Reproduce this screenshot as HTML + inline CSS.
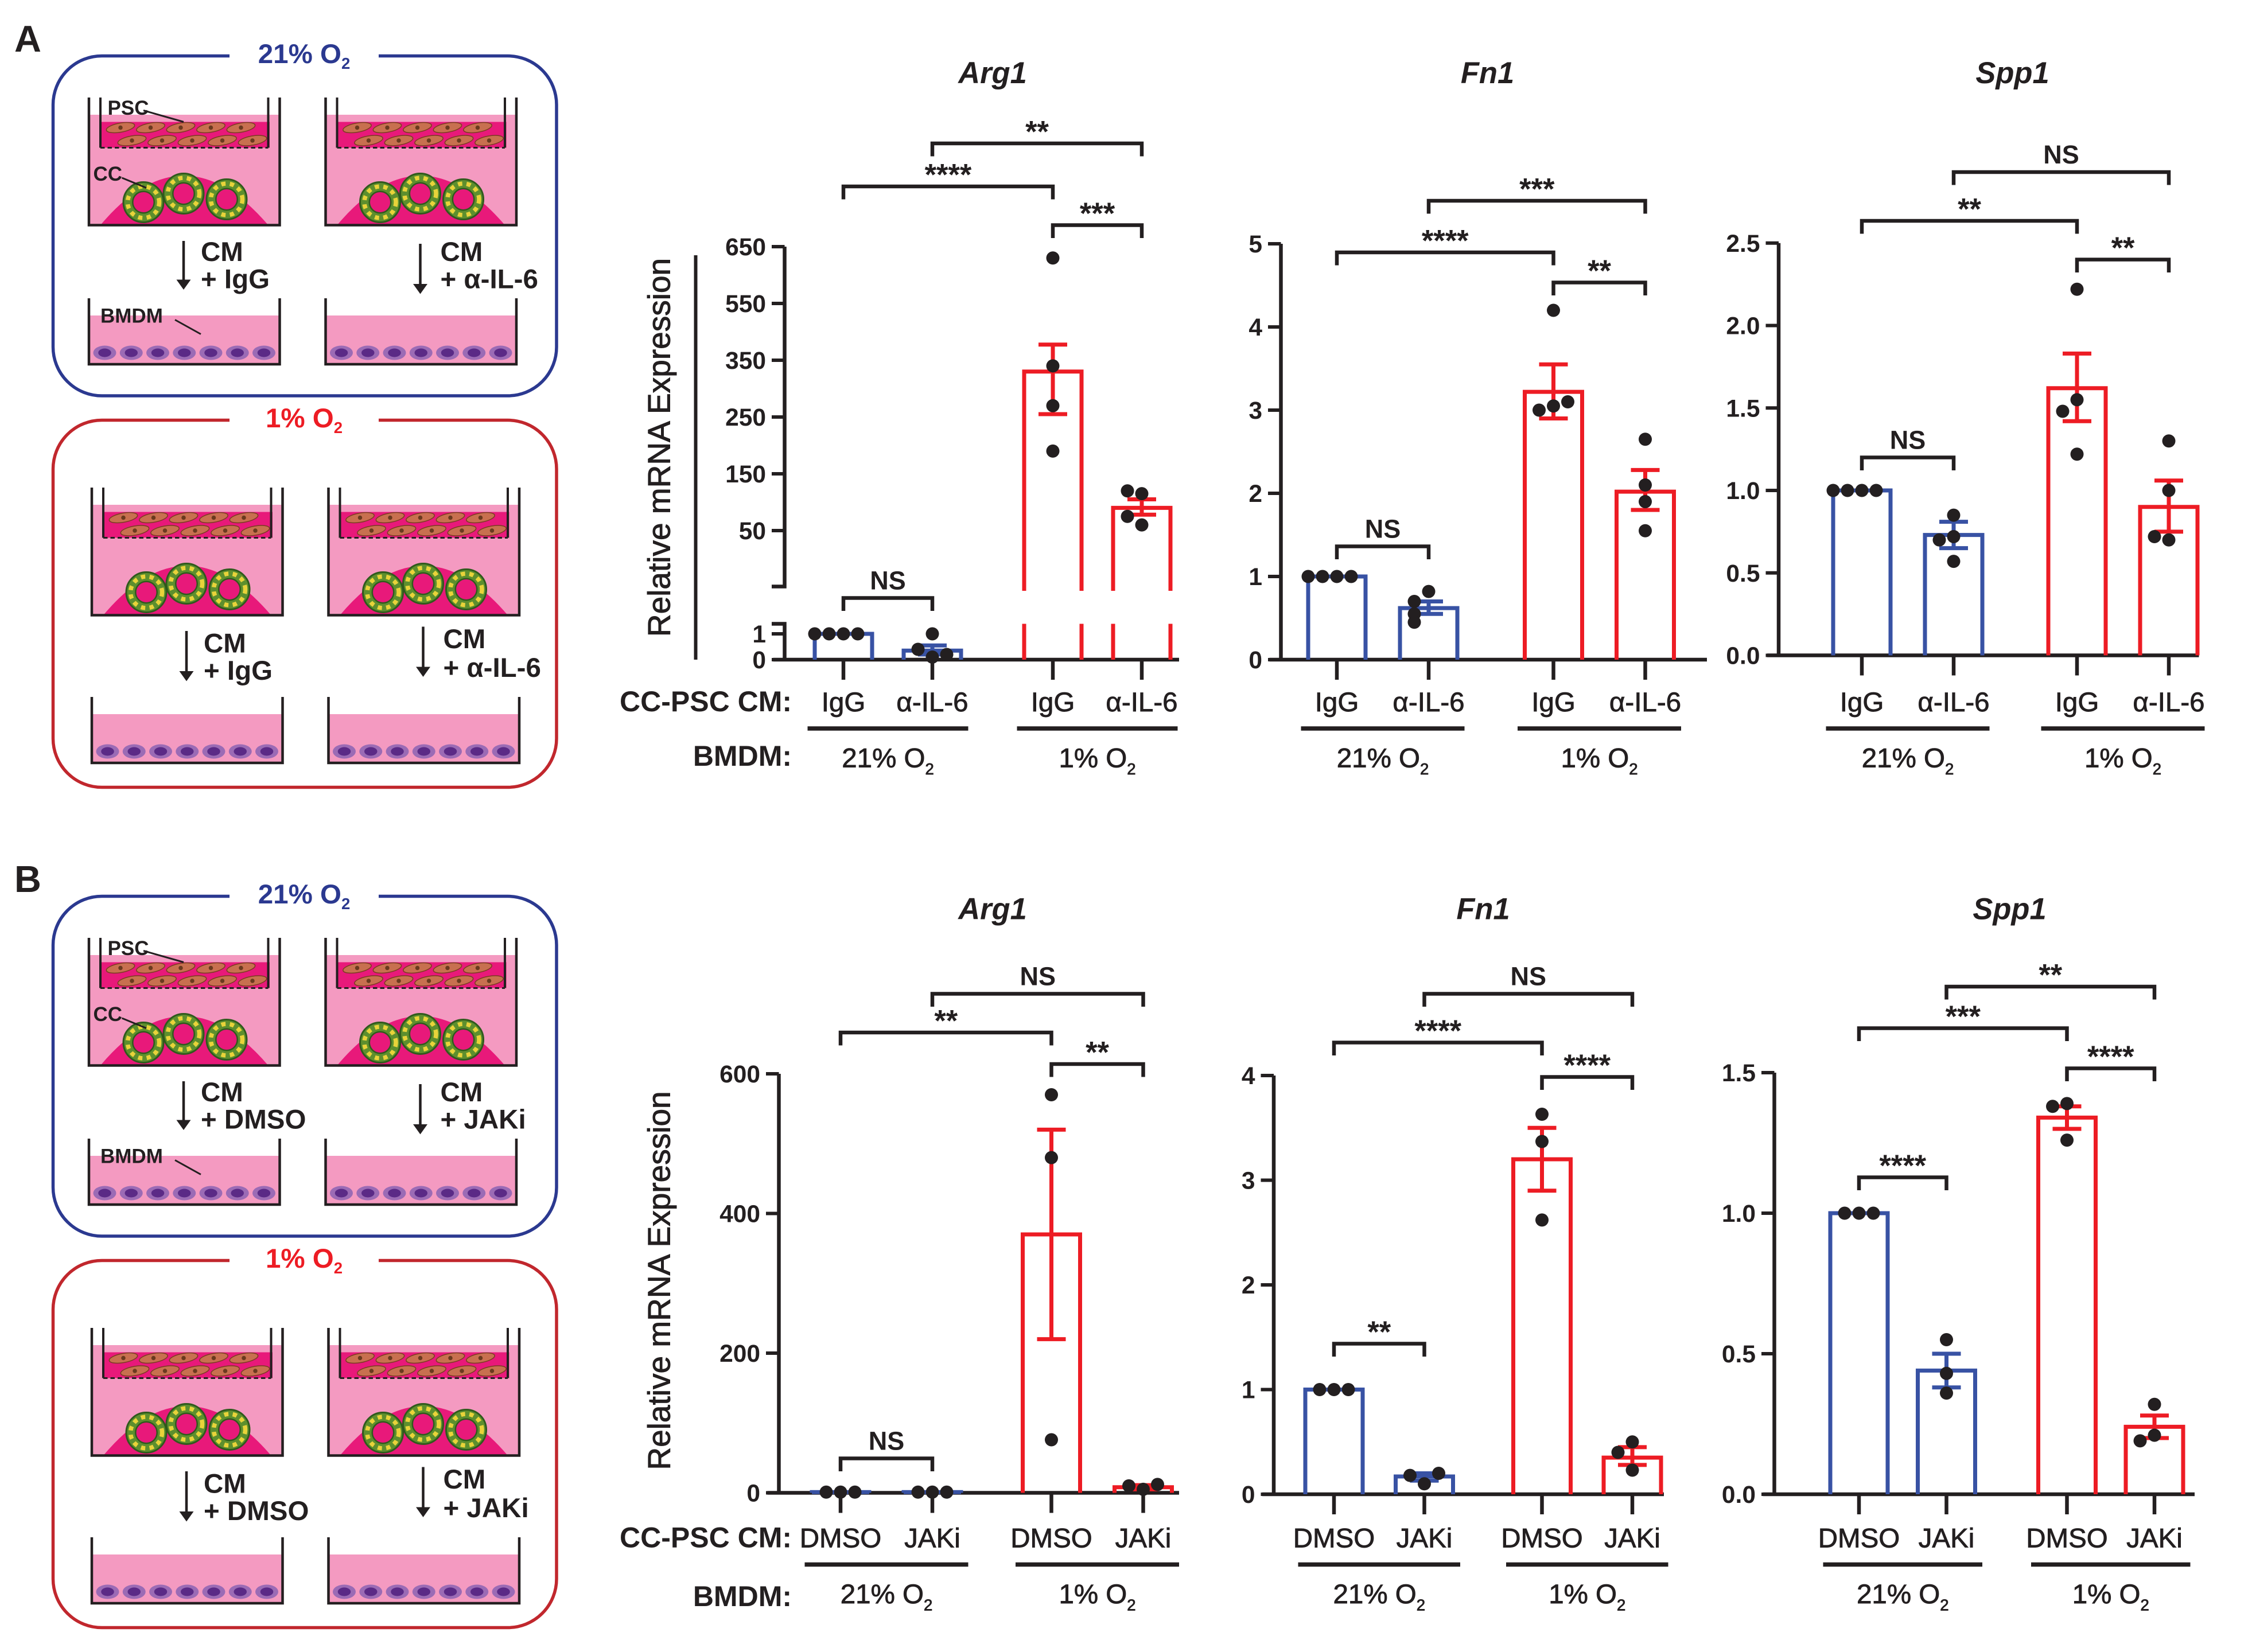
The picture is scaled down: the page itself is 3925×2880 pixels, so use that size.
<!DOCTYPE html>
<html><head><meta charset="utf-8">
<style>
html,body{margin:0;padding:0;background:#fff;}
svg{display:block;}
text{font-family:"Liberation Sans",sans-serif;}
</style></head>
<body>
<svg id="fig" width="3925" height="2880" viewBox="0 0 1570 1152" xmlns="http://www.w3.org/2000/svg">
<g id="schem"></g>
<g id="charts"></g>
</svg>
<script>
// ---------- DATA ----------
const catsA = ["IgG","α-IL-6","IgG","α-IL-6"];
const catsB = ["DMSO","JAKi","DMSO","JAKi"];
// Panel A Arg1
const arg1A_mean = [1, 0.35, 330, 90];
const arg1A_lo = [1, 0.2, 255, 78];
const arg1A_hi = [1, 0.55, 405, 105];
const arg1A_dots = [[1,1,1,1],[0.1,0.4,1.0,0.2],[630,340,270,190],[115,120,60,75]];
const arg1A_ticks = ["0","1","50","150","250","350","550","650"];
// Panel A Fn1
const fn1A_mean = [1, 0.62, 3.22, 2.02];
const fn1A_lo = [1, 0.55, 2.9, 1.8];
const fn1A_hi = [1, 0.7, 3.55, 2.28];
const fn1A_dots = [[1,1,1,1],[0.82,0.7,0.55,0.45],[4.2,3.05,3.0,3.1],[2.65,2.1,1.9,1.55]];
const fn1A_ticks = [0,1,2,3,4,5];
// Panel A Spp1
const spp1A_mean = [1, 0.73, 1.62, 0.9];
const spp1A_lo = [1, 0.65, 1.42, 0.75];
const spp1A_hi = [1, 0.81, 1.83, 1.06];
const spp1A_dots = [[1,1,1,1],[0.85,0.72,0.7,0.57],[2.22,1.55,1.48,1.22],[1.3,1.0,0.7,0.72]];
const spp1A_ticks = [0,0.5,1,1.5,2,2.5];
// Panel B Arg1
const arg1B_mean = [1, 1, 370, 8];
const arg1B_lo = [1, 1, 220, 5];
const arg1B_hi = [1, 1, 520, 11];
const arg1B_dots = [[1,1,1],[1,1,1],[570,480,76],[5,10,12]];
const arg1B_ticks = [0,200,400,600];
// Panel B Fn1
const fn1B_mean = [1, 0.17, 3.2, 0.35];
const fn1B_lo = [1, 0.13, 2.9, 0.28];
const fn1B_hi = [1, 0.2, 3.5, 0.45];
const fn1B_dots = [[1,1,1],[0.1,0.18,0.2],[3.63,3.37,2.62],[0.5,0.4,0.23]];
const fn1B_ticks = [0,1,2,3,4];
// Panel B Spp1
const spp1B_mean = [1, 0.44, 1.34, 0.24];
const spp1B_lo = [1, 0.38, 1.3, 0.2];
const spp1B_hi = [1, 0.5, 1.38, 0.28];
const spp1B_dots = [[1,1,1],[0.55,0.43,0.36],[1.39,1.38,1.26],[0.32,0.21,0.19]];
const spp1B_ticks = [0,0.5,1,1.5];
// significance labels
const sigA_arg1 = ["**","****","***","NS"];
const sigA_fn1 = ["***","****","**","NS"];
const sigA_spp1 = ["NS","**","**","NS"];
const sigB_arg1 = ["NS","**","**","NS"];
const sigB_fn1 = ["NS","****","****","**"];
const sigB_spp1 = ["**","***","****","****"];

const NS="http://www.w3.org/2000/svg";
function mk(parent,tag,attrs,txt){const e=document.createElementNS(NS,tag);for(const k in attrs)e.setAttribute(k,attrs[k]);if(txt!==undefined)e.textContent=txt;parent.appendChild(e);return e;}
const BLUE="#3852a4", RED="#ed1c24";

// ---------- SCHEMATICS ----------
const S=document.getElementById('schem');
function txt(p,x,y,s,size,fill,anchor,name){const t=mk(p,'text',{x:x,y:y,'font-size':size,'font-weight':'bold',fill:fill||'#231f20','text-anchor':anchor||'start'},s);

return t;}
function o2title(p,x,y,pct,col,name){const t=mk(p,'text',{x:x,y:y,'font-size':19,'font-weight':'bold',fill:col,'text-anchor':'middle'});


t.appendChild(document.createTextNode(pct+" O"));mk(t,'tspan',{'font-size':11,dy:4},"2");}
function box(y0,y1,col,title,name){const g=mk(S,'g',{});


mk(g,'rect',{x:37,y:y0,width:351,height:y1-y0,rx:34,fill:'none',stroke:col,'stroke-width':2.2});
mk(g,'rect',{x:160,y:y0-12,width:104,height:24,fill:'#fff'});
o2title(g,212,y0+5,title,col,'box-title');return g;}
function transwell(g,x0,y0){
 mk(g,'rect',{x:x0,y:y0+12,width:133,height:77,fill:'#f49ac1'});
 mk(g,'rect',{x:x0+8,y:y0+17,width:118,height:18,fill:'#e8197a'});
 mk(g,'path',{d:`M${x0+8},${y0+89} Q${x0+66},${y0+20} ${x0+125},${y0+89} Z`,fill:'#e8197a'});
 mk(g,'path',{d:`M${x0},${y0} V${y0+89} H${x0+133} V${y0}`,fill:'none',stroke:'#231f20','stroke-width':1.8});
 mk(g,'path',{d:`M${x0+8},${y0} V${y0+35} M${x0+125},${y0} V${y0+35}`,fill:'none',stroke:'#231f20','stroke-width':1.6});
 mk(g,'line',{x1:x0+8,y1:y0+35,x2:x0+125,y2:y0+35,stroke:'#231f20','stroke-width':1.2,'stroke-dasharray':'3,2'});
 for(let r=0;r<2;r++)for(let c=0;c<5;c++){const cx=x0+22+c*21+r*8, cy=y0+21+r*9;
  mk(g,'ellipse',{cx:cx,cy:cy,rx:10,ry:3.2,fill:'#c8704f',stroke:'#7a3b22','stroke-width':0.6,transform:`rotate(-10 ${cx} ${cy})`});
  mk(g,'circle',{cx:cx,cy:cy,r:1.5,fill:'#6b3a1f'});}
 [[38,73],[66,67],[96,71]].forEach(([dx,dy])=>{
  mk(g,'circle',{cx:x0+dx,cy:y0+dy,r:14,fill:'#5d8f2e',stroke:'#2f5a1c','stroke-width':1.2});
  mk(g,'circle',{cx:x0+dx,cy:y0+dy,r:11,fill:'none',stroke:'#e8d33a','stroke-width':3,'stroke-dasharray':'3,3'});
  mk(g,'circle',{cx:x0+dx,cy:y0+dy,r:7.5,fill:'#e8197a',stroke:'#2f5a1c','stroke-width':1});});
}
function bmdm(g,x0,y0){
 mk(g,'rect',{x:x0,y:y0+12,width:133,height:34,fill:'#f49ac1'});
 mk(g,'path',{d:`M${x0},${y0} V${y0+46} H${x0+133} V${y0}`,fill:'none',stroke:'#231f20','stroke-width':1.8});
 for(let c=0;c<7;c++){const cx=x0+11+c*18.5;
  mk(g,'ellipse',{cx:cx,cy:y0+38,rx:8,ry:5,fill:'#9b6bb5'});
  mk(g,'ellipse',{cx:cx,cy:y0+38,rx:4.5,ry:3,fill:'#5b2a86'});}
}
function arrow(g,x,y1,y2){mk(g,'line',{x1:x,y1:y1,x2:x,y2:y2-6,stroke:'#231f20','stroke-width':1.8});
 mk(g,'path',{d:`M${x-5},${y2-7} L${x+5},${y2-7} L${x},${y2} Z`,fill:'#231f20'});}
function panel(yb,yr,treat,letter){
 txt(S,10,yb-3,letter,26,'#231f20','start','panel-letter-'+letter.toLowerCase());
 const gb=box(yb,yb+237,'#2b3990','21%','normoxia-box-'+letter.toLowerCase());
 transwell(gb,62,yb+29);transwell(gb,227,yb+29);bmdm(gb,62,yb+169);bmdm(gb,227,yb+169);
 arrow(gb,128,yb+129,yb+163);arrow(gb,293,yb+131,yb+166);
 txt(gb,140,yb+143,"CM",19);txt(gb,140,yb+162,"+ "+treat[0],19);
 txt(gb,307,yb+143,"CM",19);txt(gb,307,yb+162,"+ "+treat[1],19);
 txt(gb,75,yb+41,"PSC",14);txt(gb,65,yb+87,"CC",14);txt(gb,70,yb+186,"BMDM",14);
 mk(gb,'line',{x1:100,y1:yb+38,x2:128,y2:yb+46,stroke:'#231f20','stroke-width':1.2});
 mk(gb,'line',{x1:85,y1:yb+85,x2:102,y2:yb+92,stroke:'#231f20','stroke-width':1.2});
 mk(gb,'line',{x1:122,y1:yb+184,x2:140,y2:yb+194,stroke:'#231f20','stroke-width':1.2});
 const gr=box(yr,yr+256,'#c1272d','1%','hypoxia-box-'+letter.toLowerCase());
 gr.querySelector('text').setAttribute('fill',RED);
 transwell(gr,64,yr+47);transwell(gr,229,yr+47);bmdm(gr,64,yr+193);bmdm(gr,229,yr+193);
 arrow(gr,130,yr+147,yr+182);arrow(gr,295,yr+144,yr+179);
 txt(gr,142,yr+162,"CM",19);txt(gr,142,yr+181,"+ "+treat[0],19);
 txt(gr,309,yr+159,"CM",19);txt(gr,309,yr+179,"+ "+treat[1],19);
}
panel(39,293,["IgG","α-IL-6"],"A");
panel(625,879,["DMSO","JAKi"],"B");

// ---------- CHARTS ----------
const C=document.getElementById('charts');
function drawChart(cfg){
 const g=mk(C,'g',{});
 
 
 const ax=cfg.axisX, y=cfg.y, x=i=>cfg.start+i*cfg.step+(i>=2?cfg.gap:0);
 const ti=mk(g,'text',{x:cfg.titleX,y:cfg.titleY,'font-size':21,'font-weight':'bold','font-style':'italic','text-anchor':'middle',fill:'#231f20'},cfg.title);
 
 
 const ya=mk(g,'path',{d:cfg.axisPath||`M${ax},${y(cfg.tickVals[cfg.tickVals.length-1])} V${y(0)}`,fill:'none',stroke:'#231f20','stroke-width':2.6});
 
 
 const xa=mk(g,'line',{x1:ax-8,y1:y(0),x2:cfg.xEnd,y2:y(0),stroke:'#231f20','stroke-width':2.6});
 
 
 cfg.tickVals.forEach((v,k)=>{const yy=y(v);
  mk(g,'line',{x1:ax-9,y1:yy,x2:ax,y2:yy,stroke:'#231f20','stroke-width':2.4});
  const t=mk(g,'text',{x:ax-13,y:yy+6,'font-size':17,'font-weight':'bold','text-anchor':'end',fill:'#231f20'},cfg.tickLabels[k]);
  
  });
 cfg.mean.forEach((m,i)=>{const col=i<2?BLUE:RED, cx=x(i), w=40;
  const b=mk(g,'path',{d:cfg.barPath?cfg.barPath(cx,w,m):`M${cx-w/2},${y(0)} V${y(m)} H${cx+w/2} V${y(0)}`,fill:'none',stroke:col,'stroke-width':2.8});
  
  
  mk(g,'line',{x1:cx,y1:y(0),x2:cx,y2:y(0)+14,stroke:'#231f20','stroke-width':2.6});
  if(cfg.hi[i]!==cfg.lo[i]){
   const e=mk(g,'path',{d:`M${cx},${y(cfg.lo[i])} V${y(cfg.hi[i])} M${cx-10},${y(cfg.hi[i])} H${cx+10} M${cx-10},${y(cfg.lo[i])} H${cx+10}`,stroke:col,'stroke-width':2.8,fill:'none'});
   
   }
  const d=cfg.dots[i], placed=[];
  d.forEach(v=>{const yy=y(v);
   const near=placed.filter(p=>Math.abs(p-yy)<9).length;
   placed.push(yy);
   const seq=[0,-10,10,-20,20];
   const ox=seq[near]||0;
   const c=mk(g,'circle',{cx:cx+ox,cy:yy,r:4.6,fill:'#231f20'});
   
   });
  const l=mk(g,'text',{x:cx,y:cfg.catY,'font-size':19,'text-anchor':'middle',fill:'#231f20',stroke:'#231f20','stroke-width':0.35},cfg.cats[i]);
  
  
 });
 [[0,1,"21%"],[2,3,"1%"]].forEach(([a,b,lab])=>{
  mk(g,'line',{x1:x(a)-25,y1:cfg.catY+12,x2:x(b)+25,y2:cfg.catY+12,stroke:'#231f20','stroke-width':3});
  const t=mk(g,'text',{x:(x(a)+x(b))/2,y:cfg.catY+39,'font-size':19,'text-anchor':'middle',fill:'#231f20',stroke:'#231f20','stroke-width':0.35});
  
  
  t.appendChild(document.createTextNode(lab+" O"));mk(t,'tspan',{'font-size':11,dy:5},"2");
 });
 cfg.brackets.forEach((br,k)=>{const [a,b,by]=br, x1=x(a), x2=x(b);
  const p=mk(g,'path',{d:`M${x1},${by+9} V${by} H${x2} V${by+9}`,fill:'none',stroke:'#231f20','stroke-width':2.6});
  
  
  const s=cfg.sig[k], isNS=s==='NS';
  const t=mk(g,'text',{x:(x1+x2)/2,y:isNS?by-6:by-1,'font-size':isNS?18:21,'font-weight':'bold','text-anchor':'middle',fill:'#231f20'},s);
  
  });
}
function yArg1A(v){ if(v<=1) return 460-v*18;
 const s=[50,150,250,350,550,650]; if(v<=50) return 370+(50-v)*0.8;
 for(let k=0;k<s.length-1;k++){ if(v<=s[k+1]) return 370-39.6*(k+(v-s[k])/(s[k+1]-s[k])); }
 return 370-39.6*5-(v-650)*0.396; }
drawChart({name:'chart-a-arg1',title:'Arg1',titleX:692,titleY:58,axisX:547,xEnd:822,start:588,step:62,gap:22,catY:496,
 y:yArg1A,tickVals:[0,1,50,150,250,350,550,650],tickLabels:arg1A_ticks,
 axisPath:'M547,172 V409 H538 M538,435 H547 V460',
 barPath:(cx,w,m)=>{const yy=yArg1A(m),h=w/2; if(m<50) return `M${cx-h},460 V${yy} H${cx+h} V460`;
   return `M${cx-h},460 V435 M${cx-h},412 V${yy} H${cx+h} V412 M${cx+h},435 V460`;},
 cats:catsA,mean:arg1A_mean,lo:arg1A_lo,hi:arg1A_hi,dots:arg1A_dots,sig:sigA_arg1,
 brackets:[[1,3,100],[0,2,130],[2,3,157],[0,1,417]]});
drawChart({name:'chart-a-fn1',title:'Fn1',titleX:1037,titleY:58,axisX:893,xEnd:1190,start:932,step:64,gap:23,catY:496,
 y:v=>460-v*58,tickVals:fn1A_ticks,tickLabels:fn1A_ticks.map(String),
 cats:catsA,mean:fn1A_mean,lo:fn1A_lo,hi:fn1A_hi,dots:fn1A_dots,sig:sigA_fn1,
 brackets:[[1,3,140],[0,2,176],[2,3,197],[0,1,381]]});
drawChart({name:'chart-a-spp1',title:'Spp1',titleX:1403,titleY:58,axisX:1240,xEnd:1533,start:1298,step:64,gap:22,catY:496,
 y:v=>457-v*115,tickVals:spp1A_ticks,tickLabels:spp1A_ticks.map(v=>v.toFixed(1)),
 cats:catsA,mean:spp1A_mean,lo:spp1A_lo,hi:spp1A_hi,dots:spp1A_dots,sig:sigA_spp1,
 brackets:[[1,3,120],[0,2,154],[2,3,181],[0,1,319]]});
drawChart({name:'chart-b-arg1',title:'Arg1',titleX:692,titleY:641,axisX:543,xEnd:822,start:586,step:64,gap:19,catY:1079,
 y:v=>1041-v*0.487,tickVals:arg1B_ticks,tickLabels:arg1B_ticks.map(String),
 cats:catsB,mean:arg1B_mean,lo:arg1B_lo,hi:arg1B_hi,dots:arg1B_dots,sig:sigB_arg1,
 brackets:[[1,3,693],[0,2,720],[2,3,742],[0,1,1017]]});
drawChart({name:'chart-b-fn1',title:'Fn1',titleX:1034,titleY:641,axisX:888,xEnd:1160,start:930,step:63,gap:19,catY:1079,
 y:v=>1042-v*73,tickVals:fn1B_ticks,tickLabels:fn1B_ticks.map(String),
 cats:catsB,mean:fn1B_mean,lo:fn1B_lo,hi:fn1B_hi,dots:fn1B_dots,sig:sigB_fn1,
 brackets:[[1,3,693],[0,2,727],[2,3,751],[0,1,937]]});
drawChart({name:'chart-b-spp1',title:'Spp1',titleX:1401,titleY:641,axisX:1237,xEnd:1530,start:1296,step:61,gap:23,catY:1079,
 y:v=>1042-v*196,tickVals:spp1B_ticks,tickLabels:spp1B_ticks.map(v=>v.toFixed(1)),
 cats:catsB,mean:spp1B_mean,lo:spp1B_lo,hi:spp1B_hi,dots:spp1B_dots,sig:sigB_spp1,
 brackets:[[1,3,688],[0,2,717],[2,3,745],[0,1,821]]});

[[496,534],[1079,1120]].forEach(([cy,by])=>{
 const a=mk(C,'text',{x:552,y:cy,'font-size':20,'font-weight':'bold','text-anchor':'end',fill:'#231f20'},"CC-PSC CM:");
 
 
 const b=mk(C,'text',{x:552,y:by,'font-size':20,'font-weight':'bold','text-anchor':'end',fill:'#231f20'},"BMDM:");
 
 
});
[[312,'y-axis-title-a'],[893,'y-axis-title-b']].forEach(([cy,n])=>{
 const t=mk(C,'text',{x:0,y:0,'font-size':22,'text-anchor':'middle',fill:'#231f20',stroke:'#231f20','stroke-width':0.4,transform:`translate(467,${cy}) rotate(-90)`},"Relative mRNA Expression");
 
 
});
mk(C,'line',{x1:485,y1:178,x2:485,y2:460,stroke:'#231f20','stroke-width':2.4});
</script>
</body></html>
